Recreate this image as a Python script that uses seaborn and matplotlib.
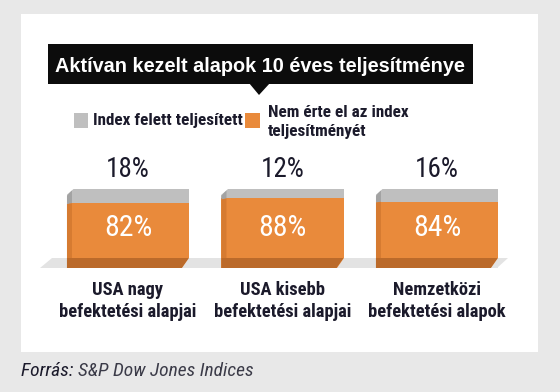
import numpy as np
import pandas as pd
import seaborn as sns
import matplotlib
matplotlib.use("Agg")
import matplotlib.pyplot as plt
from matplotlib.patches import Rectangle, Polygon
from matplotlib import font_manager as fm

# ---- data ----
categories = ["USA nagy\nbefektetési alapjai",
              "USA kisebb\nbefektetési alapjai",
              "Nemzetközi\nbefektetési alapok"]
outperformed = [18, 12, 16]      # Index felett teljesített (gray, top)
underperformed = [82, 88, 84]    # Nem érte el az index teljesítményét (orange)
series_labels = ["Index felett teljesített", "Nem érte el az index\nteljesítményét"]
title = "Aktívan kezelt alapok 10 éves teljesítménye"
source_prefix = "Forrás:"
source_name = "S&P Dow Jones Indices"

df = pd.DataFrame({"category": categories,
                   "out": outperformed,
                   "under": underperformed})
df["total"] = df["out"] + df["under"]

sns.set_theme(style="white")
plt.rcParams["font.family"] = ["Liberation Sans", "DejaVu Sans"]

# ---- look for a condensed sans font (Arial Narrow look) ----
PREF = ["liberation sans narrow", "arial narrow", "roboto condensed",
        "noto sans", "open sans condensed", "open sans", "dejavu sans"]


def _wt(w):
    if isinstance(w, str):
        return fm.weight_dict.get(w, 400)
    return int(w)


def find_condensed(bold=False, italic=False):
    best = None
    for f in fm.fontManager.ttflist:
        name = f.name.lower()
        path = f.fname.lower().replace("\\", "/").split("/")[-1]
        cond = ("narrow" in name or "condensed" in name or "narrow" in path
                or "condensed" in path)
        if not cond:
            continue
        if name not in PREF and not any(name.startswith(p) for p in PREF[:3]):
            continue
        fam_rank = next((i for i, p in enumerate(PREF) if name.startswith(p)), 9)
        if "semi" in path or "extra" in path or "ultra" in path:
            width_rank = 2
        else:
            width_rank = 0
        wrank = abs(_wt(f.weight) - (700 if bold else 400)) / 100.0
        is_it = f.style in ("italic", "oblique")
        srank = 0 if is_it == italic else 5
        score = fam_rank * 10 + width_rank * 3 + wrank + srank
        if best is None or score < best[0]:
            best = (score, f.fname)
    return best[1] if best else None


def fprop(size, bold=False, italic=False):
    path = find_condensed(bold, italic)
    if path:
        return fm.FontProperties(fname=path, size=size)
    return fm.FontProperties(family=["Liberation Sans", "DejaVu Sans"],
                             weight="bold" if bold else "normal",
                             style="italic" if italic else "normal",
                             size=size * 0.84)


W, H = 560, 392
fig = plt.figure(figsize=(W / 100, H / 100), dpi=100)
fig.patch.set_facecolor("#e8e8e8")


def fx(x):
    return x / W


def fy(y):
    return 1 - y / H


def frect(x0, y0, x1, y1, color, z=0):
    fig.patches.append(Rectangle((fx(x0), fy(y1)), fx(x1 - x0), (y1 - y0) / H,
                                 transform=fig.transFigure, facecolor=color,
                                 edgecolor="none", zorder=z))


def fpoly(pts, color, z=0):
    fig.patches.append(Polygon([(fx(a), fy(b)) for a, b in pts], closed=True,
                               transform=fig.transFigure, facecolor=color,
                               edgecolor="none", zorder=z))


GRAY = "#bfbfbf"
GRAY_DK = "#a3a3a3"
ORANGE = "#e98a3b"
ORANGE_SIDE = "#d67b31"
ORANGE_BOT = "#bb6a2a"
FLOOR = "#e3e3e3"
TXT = "#1b1a2b"

# white panel
frect(21, 14, 538, 352, "white", z=-2)
# title box with pointer
frect(48, 44, 473, 84, "#0c0c0c", z=1)
fpoly([(249, 83), (270, 83), (259, 95)], "#0c0c0c", z=1)
fig.text(fx(260), fy(66), title, color="white", ha="center", va="center",
         fontsize=14.3, fontweight="bold",
         family=["Liberation Sans", "DejaVu Sans"], zorder=3)

# legend
frect(74, 113, 88, 128, GRAY, z=2)
fig.text(fx(93), fy(121), series_labels[0], color=TXT, ha="left", va="center",
         fontproperties=fprop(12.3, bold=True))
frect(245, 113, 260, 128, ORANGE, z=2)
fig.text(fx(268), fy(122), series_labels[1], color=TXT, ha="left", va="center",
         fontproperties=fprop(12.3, bold=True), linespacing=1.4)

# ---- bars ----
base_px, top_px = 268, 189
left_px, right_px = 50.75, 514.25
ax = fig.add_axes([fx(left_px), fy(base_px), (right_px - left_px) / W,
                   (base_px - top_px) / H])
ax.set_facecolor("none")
ax.set_zorder(5)

px_x = 3 / (right_px - left_px)         # data units per px (x)
px_y = 100 / (base_px - top_px)         # data units per px (y)


def dx(px):
    return (px - left_px) * px_x - 0.5


floor = Polygon([(dx(40), 0), (dx(497), 0), (dx(508), 10 * px_y),
                 (dx(52), 10 * px_y)],
                closed=True, facecolor=FLOOR, edgecolor="none", zorder=0,
                clip_on=False)
ax.add_patch(floor)

sns.barplot(data=df, x="category", y="total", color=GRAY, saturation=1,
            width=0.79, ax=ax, edgecolor="none", linewidth=0, zorder=2)
sns.barplot(data=df, x="category", y="under", color=ORANGE, saturation=1,
            width=0.79, ax=ax, edgecolor="none", linewidth=0, zorder=2)
ax.set_xlim(-0.5, 2.5)
ax.set_ylim(0, 100)
ax.axis("off")

n = len(categories)
rects = [p for p in ax.patches if isinstance(p, Rectangle)]
gray_bars = [p for p in rects
             if np.allclose(p.get_facecolor()[:3], matplotlib.colors.to_rgb(GRAY))][:n]
orange_bars = [p for p in rects
               if np.allclose(p.get_facecolor()[:3], matplotlib.colors.to_rgb(ORANGE))][:n]

for gb, ob in zip(gray_bars, orange_bars):
    x0 = gb.get_x()
    x1 = x0 + gb.get_width()
    top = gb.get_height()
    mid = ob.get_height()
    s = 5 * px_x
    ax.add_patch(Polygon([(x0, top - 7 * px_y), (x0 + s, top), (x0 + s, mid),
                          (x0, mid - 1 * px_y)], closed=True,
                         facecolor=GRAY_DK, edgecolor="none", zorder=3))
    ax.add_patch(Polygon([(x0, mid - 1 * px_y), (x0 + s, mid), (x0 + s, 0),
                          (x0, 0)], closed=True,
                         facecolor=ORANGE_SIDE, edgecolor="none", zorder=3))
    ax.add_patch(Polygon([(x0 - 0.01, top + 0.5), (x0 + s + 2 * px_x, top + 0.5),
                          (x0 - 0.01, top - 7 * px_y)], closed=True,
                         facecolor="white", edgecolor="none", zorder=4))
    ax.add_patch(Polygon([(x0, 10 * px_y), (x1, 10 * px_y),
                          (x1 - 7 * px_x, 0), (x0, 0)], closed=True,
                         facecolor=ORANGE_BOT, edgecolor="none", zorder=3))
    ax.add_patch(Polygon([(x1, 10 * px_y), (x1 + 0.002, 10 * px_y),
                          (x1 + 0.002, 0), (x1 - 7 * px_x, 0)], closed=True,
                         facecolor=FLOOR, edgecolor="none", zorder=3))

for i, (o, u) in enumerate(zip(outperformed, underperformed)):
    ax.annotate(f"{o}%", xy=(i, 100), xytext=(0, 19.5 * 0.72),
                textcoords="offset points", ha="center", va="center",
                fontproperties=fprop(19.5), color=TXT, annotation_clip=False)
    ax.annotate(f"{u}%", xy=(i, 0), xytext=(0, 40 * 0.72),
                textcoords="offset points", ha="center", va="center",
                fontproperties=fprop(21.5), color="white",
                annotation_clip=False, zorder=6)
    ax.annotate(categories[i], xy=(i, 0), xytext=(0, -33 * 0.72),
                textcoords="offset points", ha="center", va="center",
                fontproperties=fprop(13.3, bold=True), color=TXT,
                linespacing=1.25, annotation_clip=False)

# source
t1 = fig.text(fx(21), fy(371), source_prefix + " ", color=TXT, ha="left",
              va="center", fontproperties=fprop(14, italic=True))
fig.canvas.draw()
bb = t1.get_window_extent()
fig.text(bb.x1 / W, fy(371), source_name, color="#3b3b48", ha="left",
         va="center", fontproperties=fprop(14, italic=True))

fig.savefig("out.png", dpi=100, facecolor=fig.get_facecolor())
